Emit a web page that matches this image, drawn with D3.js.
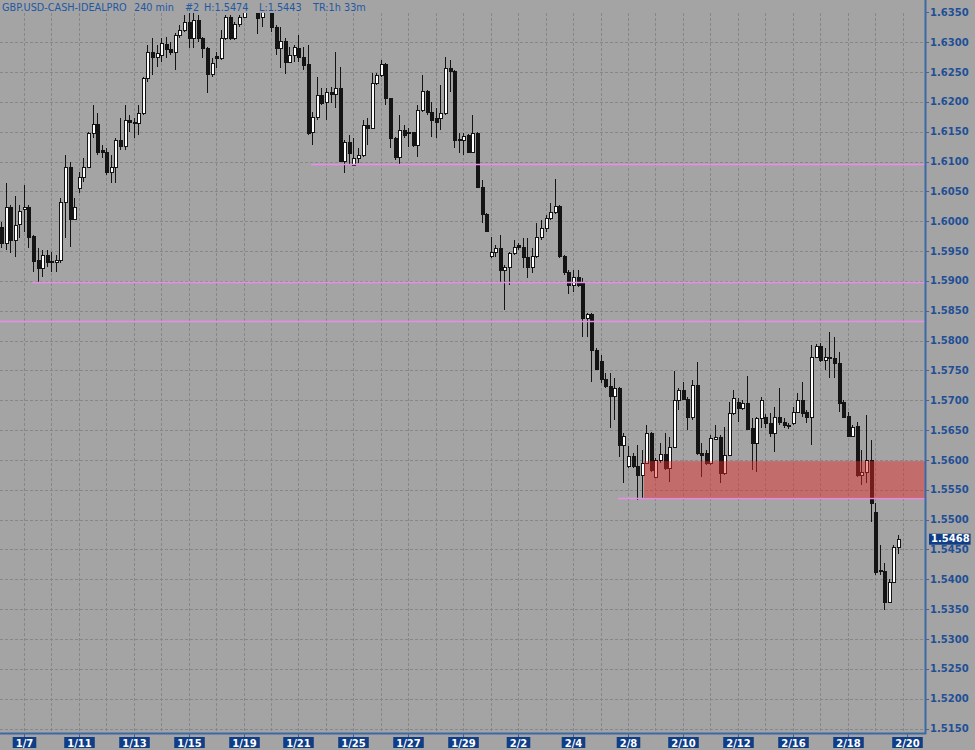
<!DOCTYPE html>
<html><head><meta charset="utf-8">
<script src="https://cdn.jsdelivr.net/npm/d3@7"></script>
<style>html,body{margin:0;padding:0;background:#a4a4a4;} svg{display:block;}</style>
</head><body>
<svg id="chart" width="975" height="750"></svg>
<script>
// ---- DATA: GBP/USD 240-min bars ----
const opens = [
1.5990,1.5964,1.6024,1.5969,1.5995,1.6020,1.6024,1.5975,1.5935,1.5922,
1.5944,1.5933,1.5932,1.5935,1.6032,1.6091,1.6004,1.6056,1.6074,1.6091,
1.6148,1.6163,1.6119,1.6116,1.6082,1.6091,1.6136,1.6126,1.6170,1.6166,
1.6165,1.6181,1.6240,1.6284,1.6275,1.6278,1.6297,1.6289,1.6284,1.6312,
1.6320,1.6334,1.6307,1.6337,1.6307,1.6290,1.6247,1.6277,1.6273,1.6307,
1.6342,1.6307,1.6330,1.6342,1.6352,1.6380,1.6368,1.6342,1.6360,1.6375,
1.6325,1.6290,1.6302,1.6267,1.6278,1.6290,1.6275,1.6263,1.6150,1.6175,
1.6212,1.6200,1.6217,1.6213,1.6223,1.6101,1.6133,1.6094,1.6106,1.6111,
1.6161,1.6156,1.6232,1.6245,1.6263,1.6207,1.6140,1.6108,1.6153,1.6148,
1.6149,1.6128,1.6186,1.6218,1.6183,1.6173,1.6173,1.6181,1.6257,1.6252,
1.6137,1.6136,1.6145,1.6116,1.6148,1.6058,1.6012,1.5942,1.5949,1.5955,
1.5918,1.5924,1.5947,1.5960,1.5957,1.5940,1.5924,1.5942,1.5974,1.5989,
1.6006,1.6016,1.6026,1.5942,1.5915,1.5893,1.5907,1.5897,1.5838,1.5845,
1.5784,1.5766,1.5736,1.5724,1.5707,1.5721,1.5625,1.5590,1.5606,1.5590,
1.5575,1.5595,1.5645,1.5571,1.5600,1.5610,1.5586,1.5621,1.5701,1.5717,
1.5702,1.5672,1.5726,1.5611,1.5611,1.5595,1.5635,1.5638,1.5578,1.5608,
1.5679,1.5697,1.5687,1.5695,1.5653,1.5628,1.5670,1.5672,1.5662,1.5645,
1.5672,1.5663,1.5658,1.5662,1.5680,1.5701,1.5680,1.5672,1.5773,1.5791,
1.5768,1.5773,1.5771,1.5762,1.5697,1.5674,1.5640,1.5657,1.5575,1.5580,
1.5600,1.5512,1.5414,1.5414,1.5362,1.5396,1.5454];
const highs = [
1.5999,1.6064,1.6027,1.6043,1.6027,1.6060,1.6027,1.5977,1.5955,1.5952,
1.5952,1.5949,1.5944,1.6039,1.6111,1.6099,1.6039,1.6082,1.6106,1.6150,
1.6195,1.6181,1.6128,1.6123,1.6111,1.6140,1.6173,1.6195,1.6178,1.6173,
1.6195,1.6242,1.6295,1.6307,1.6295,1.6307,1.6309,1.6300,1.6315,1.6329,
1.6345,1.6349,1.6349,1.6345,1.6309,1.6292,1.6273,1.6284,1.6320,1.6345,
1.6345,1.6334,1.6345,1.6362,1.6395,1.6410,1.6385,1.6372,1.6390,1.6382,
1.6329,1.6325,1.6307,1.6292,1.6295,1.6312,1.6292,1.6295,1.6183,1.6242,
1.6223,1.6223,1.6225,1.6284,1.6258,1.6136,1.6145,1.6140,1.6123,1.6170,
1.6173,1.6248,1.6248,1.6270,1.6265,1.6207,1.6141,1.6178,1.6161,1.6156,
1.6150,1.6195,1.6245,1.6220,1.6200,1.6190,1.6228,1.6275,1.6270,1.6253,
1.6148,1.6148,1.6146,1.6178,1.6150,1.6069,1.6014,1.5974,1.5960,1.5977,
1.5927,1.5949,1.5969,1.5964,1.5972,1.5972,1.5955,1.5997,1.6002,1.6011,
1.6030,1.6071,1.6027,1.5944,1.5918,1.5918,1.5918,1.5905,1.5846,1.5846,
1.5788,1.5776,1.5746,1.5746,1.5737,1.5722,1.5645,1.5623,1.5611,1.5625,
1.5616,1.5658,1.5647,1.5603,1.5628,1.5645,1.5638,1.5749,1.5721,1.5731,
1.5706,1.5734,1.5764,1.5628,1.5616,1.5642,1.5658,1.5642,1.5655,1.5697,
1.5717,1.5704,1.5701,1.5741,1.5670,1.5672,1.5706,1.5677,1.5679,1.5689,
1.5721,1.5670,1.5662,1.5689,1.5712,1.5731,1.5684,1.5793,1.5794,1.5796,
1.5788,1.5814,1.5806,1.5781,1.5701,1.5680,1.5658,1.5663,1.5616,1.5675,
1.5633,1.5528,1.5457,1.5427,1.5401,1.5457,1.5474];
const lows = [
1.5955,1.5952,1.5947,1.5940,1.5972,1.5982,1.5955,1.5915,1.5898,1.5907,
1.5924,1.5915,1.5915,1.5930,1.5972,1.5957,1.6002,1.6048,1.6066,1.6089,
1.6140,1.6111,1.6106,1.6077,1.6064,1.6064,1.6119,1.6119,1.6150,1.6140,
1.6145,1.6178,1.6233,1.6245,1.6258,1.6267,1.6273,1.6278,1.6253,1.6307,
1.6317,1.6290,1.6290,1.6300,1.6273,1.6215,1.6242,1.6257,1.6270,1.6304,
1.6304,1.6304,1.6325,1.6340,1.6356,1.6362,1.6314,1.6325,1.6355,1.6317,
1.6278,1.6257,1.6247,1.6265,1.6267,1.6267,1.6253,1.6145,1.6128,1.6170,
1.6195,1.6170,1.6198,1.6190,1.6099,1.6081,1.6094,1.6093,1.6098,1.6108,
1.6128,1.6155,1.6228,1.6242,1.6195,1.6123,1.6103,1.6094,1.6140,1.6125,
1.6125,1.6108,1.6183,1.6178,1.6141,1.6140,1.6153,1.6178,1.6217,1.6123,
1.6114,1.6111,1.6114,1.6114,1.6056,1.5997,1.5982,1.5939,1.5940,1.5898,
1.5851,1.5893,1.5944,1.5952,1.5922,1.5905,1.5913,1.5939,1.5969,1.5982,
1.6002,1.6012,1.5939,1.5910,1.5878,1.5881,1.5890,1.5806,1.5806,1.5731,
1.5751,1.5729,1.5721,1.5653,1.5667,1.5605,1.5561,1.5586,1.5586,1.5533,
1.5536,1.5593,1.5580,1.5570,1.5595,1.5583,1.5563,1.5620,1.5684,1.5701,
1.5650,1.5667,1.5608,1.5571,1.5591,1.5591,1.5633,1.5561,1.5575,1.5606,
1.5675,1.5663,1.5684,1.5650,1.5583,1.5580,1.5653,1.5653,1.5638,1.5613,
1.5658,1.5653,1.5652,1.5658,1.5679,1.5672,1.5662,1.5625,1.5771,1.5764,
1.5751,1.5737,1.5737,1.5680,1.5670,1.5638,1.5638,1.5571,1.5558,1.5561,
1.5496,1.5407,1.5407,1.5349,1.5361,1.5394,1.5443];
const closes = [
1.5964,1.6024,1.5969,1.5994,1.6017,1.6024,1.5974,1.5934,1.5922,1.5944,
1.5932,1.5934,1.5935,1.6032,1.6091,1.6004,1.6024,1.6074,1.6091,1.6148,
1.6163,1.6116,1.6116,1.6082,1.6091,1.6136,1.6126,1.6170,1.6166,1.6165,
1.6181,1.6240,1.6284,1.6275,1.6282,1.6299,1.6289,1.6284,1.6312,1.6320,
1.6334,1.6307,1.6337,1.6307,1.6290,1.6247,1.6265,1.6273,1.6307,1.6342,
1.6307,1.6330,1.6342,1.6352,1.6380,1.6372,1.6340,1.6360,1.6375,1.6325,
1.6290,1.6302,1.6267,1.6278,1.6292,1.6275,1.6262,1.6148,1.6175,1.6212,
1.6198,1.6217,1.6213,1.6223,1.6101,1.6133,1.6114,1.6106,1.6111,1.6161,
1.6156,1.6232,1.6245,1.6263,1.6207,1.6140,1.6108,1.6153,1.6145,1.6149,
1.6128,1.6186,1.6218,1.6183,1.6170,1.6166,1.6181,1.6257,1.6252,1.6136,
1.6136,1.6143,1.6116,1.6148,1.6058,1.6012,1.5984,1.5949,1.5955,1.5918,
1.5924,1.5947,1.5957,1.5957,1.5940,1.5924,1.5942,1.5974,1.5989,1.6006,
1.6016,1.6026,1.5942,1.5915,1.5893,1.5907,1.5893,1.5838,1.5845,1.5784,
1.5752,1.5736,1.5724,1.5707,1.5721,1.5625,1.5640,1.5606,1.5590,1.5575,
1.5595,1.5645,1.5583,1.5600,1.5610,1.5586,1.5621,1.5701,1.5717,1.5702,
1.5672,1.5726,1.5611,1.5608,1.5595,1.5637,1.5638,1.5578,1.5608,1.5679,
1.5704,1.5687,1.5695,1.5652,1.5628,1.5670,1.5701,1.5662,1.5645,1.5672,
1.5663,1.5658,1.5657,1.5680,1.5701,1.5679,1.5672,1.5773,1.5791,1.5768,
1.5773,1.5771,1.5762,1.5695,1.5672,1.5640,1.5655,1.5575,1.5580,1.5600,
1.5528,1.5412,1.5415,1.5362,1.5396,1.5454,1.5468];

// trading days (each starts a new block of 6 bars); every other one is labelled
const days = ["1/7","1/8","1/11","1/12","1/13","1/14","1/15","1/18","1/19","1/20",
  "1/21","1/22","1/25","1/26","1/27","1/28","1/29","2/1","2/2","2/3","2/4","2/5",
  "2/8","2/9","2/10","2/11","2/12","2/15","2/16","2/17","2/18","2/19","2/20"];
const firstDayBar = 5, barsPerDay = 6;

const priceTicks = [1.5150,1.5200,1.5250,1.5300,1.5350,1.5400,1.5450,1.5500,1.5550,
  1.5600,1.5650,1.5700,1.5750,1.5800,1.5850,1.5900,1.5950,1.6000,1.6050,1.6100,
  1.6150,1.6200,1.6250,1.6300,1.6350];

// drawn horizontal levels (price, starting bar)
const levelPrices = [1.6096, 1.5898, 1.5833, 1.5536];
const levelStartBar = [68, 7, 0, 135];
// supply/demand zone
const zoneTop = 1.5598, zoneBottom = 1.5536, zoneStartBar = 140.5;

const titleParts = ["GBP.USD-CASH-IDEALPRO","240 min","#2","H:1.5474","L:1.5443","TR:1h 33m"];
const lastPrice = 1.5468;

// ---- DRAWING ----
const svg = d3.select("#chart");
const plotRight = 925, plotTop = 13, plotBottom = 733;
const x = d3.scaleLinear().domain([0, opens.length - 1]).range([1, 898]);
const y = d3.scaleLinear().domain([1.5150, 1.6350]).range([728.5, 12.3]);

const BG = "#a4a4a4", GRID = "#878787", AXIS = "#3d68a6", TXT = "#1f4f96", BOX = "#0f3d86";

svg.append("rect").attr("width", 975).attr("height", 750).attr("fill", BG);

const defs = svg.append("defs");
defs.append("clipPath").attr("id", "plotclip").append("rect")
  .attr("x", 0).attr("y", plotTop).attr("width", plotRight).attr("height", plotBottom - plotTop);
defs.append("clipPath").attr("id", "axisclip").append("rect")
  .attr("x", plotRight).attr("y", 0).attr("width", 50).attr("height", plotBottom);

const plot = svg.append("g").attr("clip-path", "url(#plotclip)");

// grid
plot.append("g").selectAll("line").data(priceTicks).join("line")
  .attr("x1", 0).attr("x2", plotRight)
  .attr("y1", d => Math.round(y(d)) + 0.5).attr("y2", d => Math.round(y(d)) + 0.5)
  .attr("stroke", GRID).attr("stroke-width", 1).attr("stroke-dasharray", "3,2");
plot.append("g").selectAll("line").data(days).join("line")
  .attr("x1", (d, k) => Math.round(x(firstDayBar + k * barsPerDay)) + 0.5)
  .attr("x2", (d, k) => Math.round(x(firstDayBar + k * barsPerDay)) + 0.5)
  .attr("y1", plotTop).attr("y2", plotBottom)
  .attr("stroke", GRID).attr("stroke-width", 1).attr("stroke-dasharray", "3,2");

// candles
const bars = opens.map((o, i) => ({i, o, h: highs[i], l: lows[i], c: closes[i]}));
const cg = plot.append("g").attr("shape-rendering", "crispEdges");
cg.selectAll("line").data(bars).join("line")
  .attr("x1", d => Math.round(x(d.i)) + 0.5).attr("x2", d => Math.round(x(d.i)) + 0.5)
  .attr("y1", d => y(d.h)).attr("y2", d => y(d.l))
  .attr("stroke", "#141414").attr("stroke-width", 1);
cg.selectAll("rect").data(bars).join("rect")
  .attr("x", d => Math.round(x(d.i)) - 0.5)
  .attr("width", 3)
  .attr("y", d => Math.round(y(Math.max(d.o, d.c))) + 0.5)
  .attr("height", d => Math.max(1, Math.round(y(Math.min(d.o, d.c))) - Math.round(y(Math.max(d.o, d.c)))))
  .attr("fill", d => d.c >= d.o ? "#ffffff" : "#141414")
  .attr("stroke", "#141414").attr("stroke-width", 1);

// levels
plot.append("g").selectAll("line").data(levelPrices).join("line")
  .attr("x1", (d, i) => levelStartBar[i] === 0 ? 0 : x(levelStartBar[i]) - 1)
  .attr("x2", plotRight)
  .attr("y1", d => Math.round(y(d)) + 0.5).attr("y2", d => Math.round(y(d)) + 0.5)
  .attr("stroke", "#ea8cea").attr("stroke-width", 1.6);

// zone
plot.append("rect")
  .attr("x", x(zoneStartBar)).attr("y", y(zoneTop))
  .attr("width", plotRight - x(zoneStartBar)).attr("height", y(zoneBottom) - y(zoneTop))
  .attr("fill", "rgb(232,40,40)").attr("fill-opacity", 0.45);

// axes lines
svg.append("line").attr("x1", plotRight + 0.5).attr("x2", plotRight + 0.5)
  .attr("y1", 0).attr("y2", plotBottom + 1).attr("stroke", AXIS).attr("stroke-width", 2);
svg.append("line").attr("x1", 0).attr("x2", plotRight + 1)
  .attr("y1", plotBottom + 0.5).attr("y2", plotBottom + 0.5).attr("stroke", AXIS).attr("stroke-width", 2);

// price axis
const pa = svg.append("g").attr("clip-path", "url(#axisclip)");
pa.selectAll("line").data(priceTicks).join("line")
  .attr("x1", plotRight + 1).attr("x2", plotRight + 4)
  .attr("y1", d => Math.round(y(d)) + 0.5).attr("y2", d => Math.round(y(d)) + 0.5)
  .attr("stroke", AXIS).attr("stroke-width", 1);
pa.selectAll("text").data(priceTicks).join("text")
  .attr("x", 930).attr("y", d => y(d)).attr("dy", "0.36em")
  .attr("font-family", "DejaVu Sans").attr("font-weight", "bold").attr("font-size", 10)
  .attr("fill", TXT).text(d => d.toFixed(4));

// current price label
const cpY = y(lastPrice);
const cpG = svg.append("g");
const cpT = cpG.append("text").attr("x", 931).attr("y", cpY).attr("dy", "0.36em")
  .attr("font-family", "DejaVu Sans").attr("font-weight", "bold").attr("font-size", 10)
  .attr("fill", "#ffffff").text(lastPrice.toFixed(4));
const cpW = cpT.node().getComputedTextLength();
cpG.insert("rect", "text").attr("x", 929).attr("y", cpY - 5).attr("width", cpW + 3).attr("height", 11)
  .attr("fill", BOX);

// date axis
const dg = svg.append("g");
days.forEach((d, k) => {
  if (k % 2 !== 0) return;
  let cx = x(firstDayBar + k * barsPerDay);
  if (k === days.length - 1) cx += 4;
  cx = Math.round(cx) + 0.5;
  dg.append("line").attr("x1", cx).attr("x2", cx).attr("y1", plotBottom).attr("y2", 738)
    .attr("stroke", AXIS).attr("stroke-width", 1);
  const g = dg.append("g");
  const t = g.append("text").attr("x", cx).attr("y", 746.5).attr("text-anchor", "middle")
    .attr("font-family", "DejaVu Sans").attr("font-weight", "bold").attr("font-size", 10)
    .attr("fill", "#ffffff").text(d);
  const w = t.node().getComputedTextLength();
  g.insert("rect", "text").attr("x", cx - w / 2 - 3).attr("y", 737).attr("width", w + 6).attr("height", 11)
    .attr("fill", BOX);
});

// title
const titleX = [2, 134, 185, 204, 259, 313];
svg.append("g").selectAll("text").data(titleParts).join("text")
  .attr("x", (d, i) => titleX[i]).attr("y", 11)
  .attr("font-family", "DejaVu Sans").attr("font-size", 9.7)
  .attr("fill", "#2158a4").text(d => d);
</script>
</body></html>
